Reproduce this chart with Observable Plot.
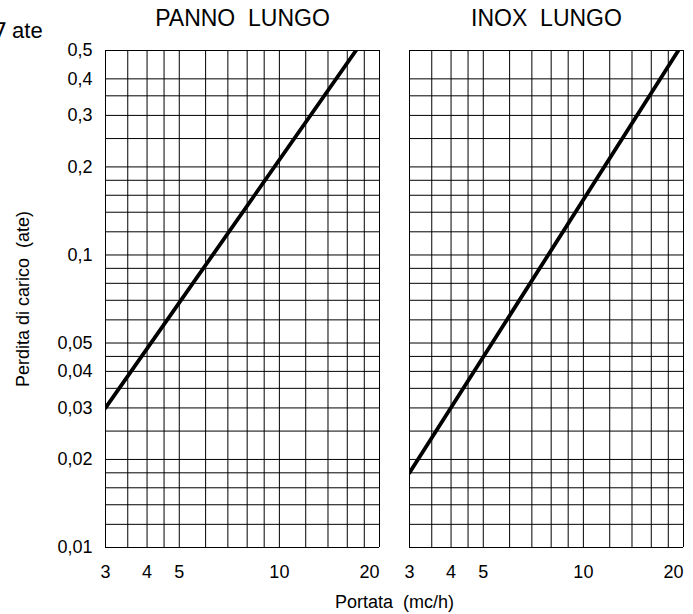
<!DOCTYPE html>
<html><head><meta charset="utf-8">
<script src="https://cdn.jsdelivr.net/npm/d3@7"></script>
<script src="https://cdn.jsdelivr.net/npm/@observablehq/plot@0.6"></script>
<style>body{margin:0;background:#fff}</style>
</head><body><div id="chart"></div>
<script>
const panels = ["PANNO  LUNGO", "INOX  LUNGO"];
const portataStart = [3, 3];
const portataEnd = [17, 19.3];
const perditaStart = [0.03, 0.018];
const perditaEnd = [0.5, 0.5];
const xGrid = [3, 3.5, 4, 4.5, 5, 6, 7, 8, 9, 10, 12, 14, 16, 18, 20];
const yGrid = [0.01, 0.012, 0.014, 0.016, 0.018, 0.02, 0.025, 0.03, 0.035, 0.04, 0.045, 0.05, 0.06, 0.07, 0.08, 0.09, 0.1, 0.12, 0.14, 0.16, 0.18, 0.2, 0.25, 0.3, 0.35, 0.4, 0.5];
const xTicks = [3, 4, 5, 10];
const xTickEnd = [20];
const yTicks = [0.01, 0.02, 0.03, 0.04, 0.05, 0.1, 0.2, 0.3, 0.4, 0.5];
const unitLabel = "∇ ate";
const xLabel = "Portata  (mc/h)";
const yLabel = "Perdita di carico  (ate)";

const lines = panels.flatMap((p, i) => [
  {panel: p, portata: portataStart[i], perdita: perditaStart[i]},
  {panel: p, portata: portataEnd[i], perdita: perditaEnd[i]}
]);
const comma = d => String(d).replace(".", ",");
const nb = s => s.replace(/ /g, "\u00a0");

const chart = Plot.plot({
  width: 693, height: 614,
  marginTop: 50, marginBottom: 67, marginLeft: 105, marginRight: 9.5,
  style: {fontFamily: "'Liberation Sans', Arial, sans-serif", fontSize: "18px", color: "#000", background: "#fff"},
  fx: {domain: panels, paddingInner: 0.1, paddingOuter: 0},
  x: {type: "log", domain: [3, 20]},
  y: {type: "log", domain: [0.01, 0.5]},
  marks: [
    Plot.ruleX(xGrid, {stroke: "#000", strokeWidth: 1}),
    Plot.ruleY(yGrid, {stroke: "#000", strokeWidth: 1}),
    Plot.line(lines, {x: "portata", y: "perdita", fx: "panel", z: "panel", stroke: "#000", strokeWidth: 3.8, clip: true}),
    Plot.axisFx({anchor: "top", tickSize: 0, tickPadding: 25, fontSize: 23, label: null, tickFormat: nb}),
    Plot.axisY({ticks: yTicks, tickFormat: comma, tickSize: 0, tickPadding: 13, fontSize: 18, label: nb(yLabel), labelAnchor: "center", labelArrow: "none", labelOffset: 89}),
    Plot.axisX({ticks: xTicks, tickFormat: d => String(d), tickSize: 0, tickPadding: 18, fontSize: 18, label: nb(xLabel), labelAnchor: "center", labelArrow: "none", labelOffset: 60}),
    Plot.axisX({ticks: xTickEnd, tickFormat: d => String(d), tickSize: 0, tickPadding: 18, fontSize: 18, dx: -10, label: null}),
    Plot.text([unitLabel], {fx: [panels[0]], frameAnchor: "top-left", text: d => d, dx: -114.5, dy: -20, textAnchor: "start", lineAnchor: "middle", fontSize: 22})
  ]
});
document.getElementById("chart").appendChild(chart);
</script>
</body></html>
